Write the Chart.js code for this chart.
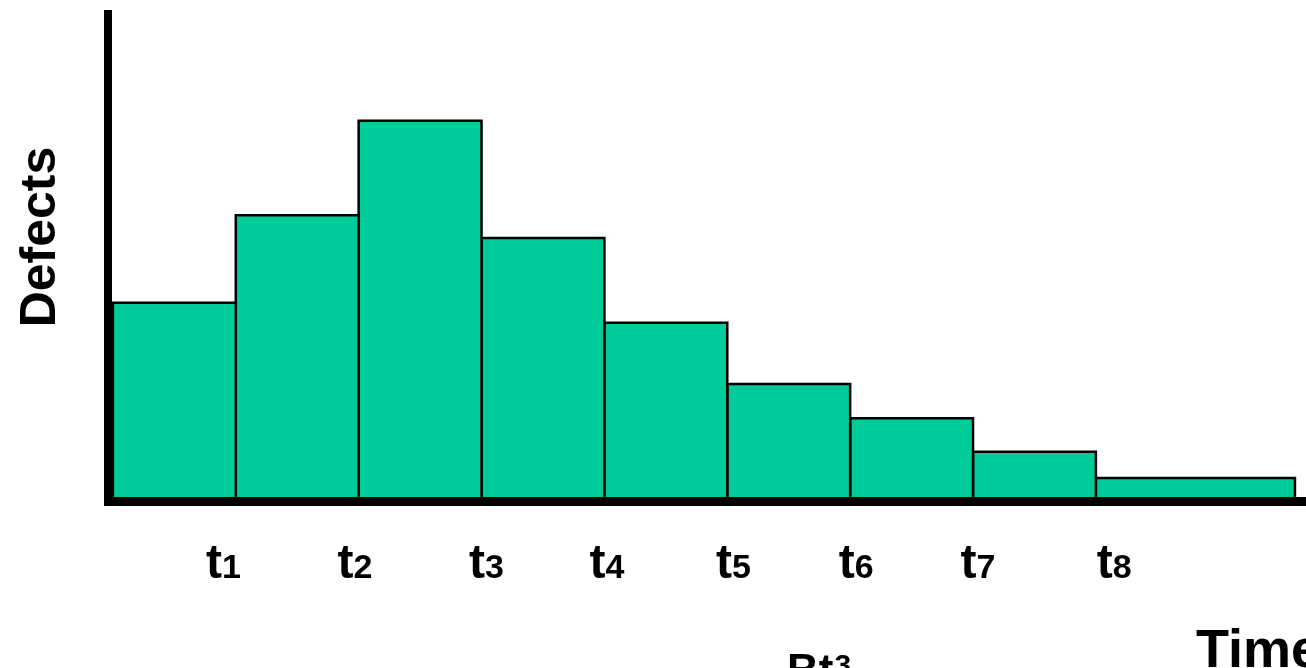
<!DOCTYPE html>
<html>
<head>
<meta charset="utf-8">
<script src="https://cdn.jsdelivr.net/npm/chart.js@4/dist/chart.umd.min.js"></script>
<style>
  html, body { margin: 0; padding: 0; background: #fff; }
  #wrap { width: 1306px; height: 668px; position: relative; }
</style>
</head>
<body>
<div id="wrap"><canvas id="c"></canvas></div>
<script>
// Interval boundaries along the time axis (last interval is wider)
const edges = [0, 1, 2, 3, 4, 5, 6, 7, 8, 9.62];
// Defects found in each interval
const defects = [40.7, 58.7, 78.1, 54.0, 36.6, 24.0, 17.0, 10.1, 4.7];
// Time-axis labels and where they sit on the axis
const tickLabels = ['t1', 't2', 't3', 't4', 't5', 't6', 't7', 't8'];
const tickAt = [0.90, 1.97, 3.04, 4.02, 5.05, 6.05, 7.04, 8.15];

const FONT = '"Liberation Sans", Arial, Helvetica, sans-serif';
const FILL = '#00CC99';

// One closed rectangle per interval, filled down to zero
const datasets = defects.map((h, i) => ({
  data: [
    { x: edges[i], y: 0 },
    { x: edges[i], y: h },
    { x: edges[i + 1], y: h },
    { x: edges[i + 1], y: 0 }
  ],
  fill: 'origin',
  backgroundColor: FILL,
  borderColor: '#000',
  borderWidth: 2.5,
  borderJoinStyle: 'miter',
  pointRadius: 0,
  tension: 0
}));

const labelsPlugin = {
  id: 'labels',
  afterDraw(chart) {
    const ctx = chart.ctx;
    const xs = chart.scales.x;
    ctx.save();
    ctx.fillStyle = '#000';
    ctx.textBaseline = 'alphabetic';
    ctx.textAlign = 'left';

    // t-labels with small subscript digits
    const mainFont = 'bold 48px ' + FONT;
    const subFont = 'bold 34px ' + FONT;
    tickLabels.forEach((lab, i) => {
      const base = lab.charAt(0), sub = lab.slice(1);
      ctx.font = mainFont;
      const wb = ctx.measureText(base).width;
      ctx.font = subFont;
      const ws = ctx.measureText(sub).width;
      const cx = xs.getPixelForValue(tickAt[i]);
      const x0 = cx - (wb + ws) / 2;
      ctx.font = mainFont;
      ctx.fillText(base, x0, 578);
      ctx.font = subFont;
      ctx.fillText(sub, x0 + wb, 578);
    });

    // Axis titles
    ctx.font = 'bold 54px ' + FONT;
    ctx.fillText('Time', 1196, 667);

    ctx.font = 'bold 44px ' + FONT;
    ctx.fillText('Bt', 787, 685);
    const wbt = ctx.measureText('Bt').width;
    ctx.font = 'bold 30px ' + FONT;
    ctx.fillText('3', 787 + wbt + 1, 675);

    ctx.translate(55, 237);
    ctx.rotate(-Math.PI / 2);
    ctx.textAlign = 'center';
    ctx.font = 'bold 50px ' + FONT;
    ctx.fillText('Defects', 0, 0);
    ctx.restore();
  }
};

new Chart(document.getElementById('c'), {
  type: 'line',
  data: { datasets },
  options: {
    responsive: true,
    maintainAspectRatio: false,
    animation: false,
    layout: { padding: { left: 108, top: 14, right: 0, bottom: 167 } },
    plugins: { legend: { display: false }, tooltip: { enabled: false } },
    scales: {
      x: {
        type: 'linear',
        min: -0.04,
        max: 9.71,
        grid: { display: false, drawTicks: false },
        ticks: { display: false },
        border: { display: true, color: '#000', width: 9, z: 1 }
      },
      y: {
        type: 'linear',
        min: 0,
        max: 100,
        grid: { display: false, drawTicks: false },
        ticks: { display: false },
        border: { display: true, color: '#000', width: 8, z: 1 }
      }
    }
  },
  plugins: [labelsPlugin]
});
</script>
</body>
</html>
